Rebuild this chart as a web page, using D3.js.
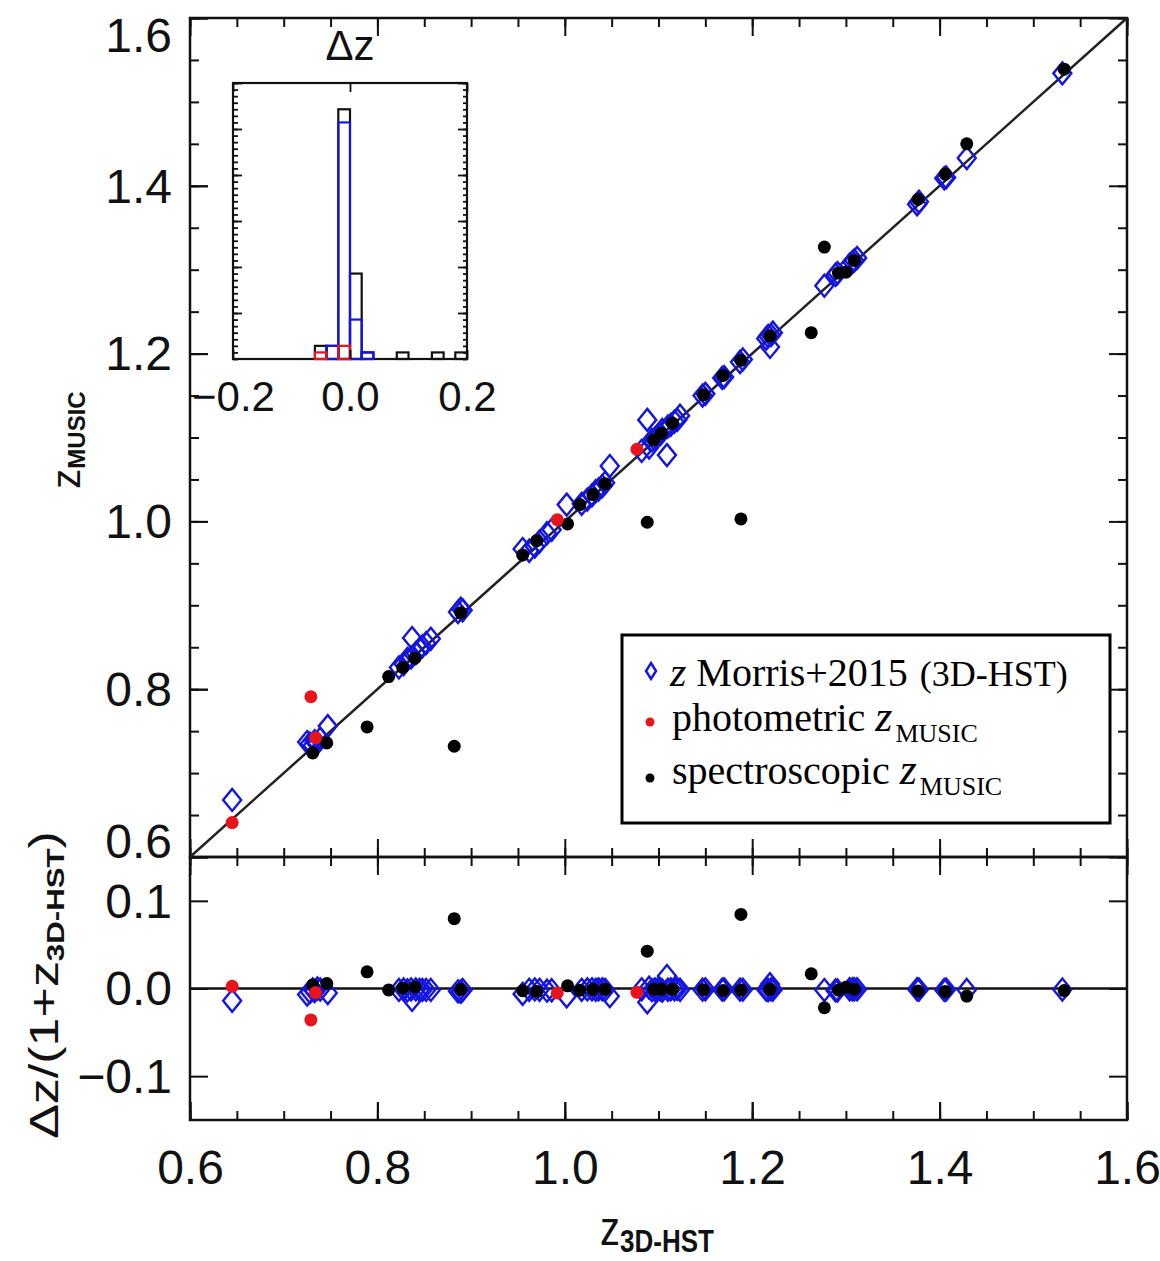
<!DOCTYPE html>
<html>
<head>
<meta charset="utf-8">
<script src="https://cdn.jsdelivr.net/npm/d3@7"></script>
<style>
  body { margin: 0; background: #fff; }
  svg { display: block; }
</style>
</head>
<body>
<div id="chart"></div>
<script>
// ---- data ----
const mainTicks = [0.6, 0.8, 1.0, 1.2, 1.4, 1.6];
const residTicks = [-0.1, 0.0, 0.1];
const insetTicks = [-0.2, 0.0, 0.2];

// blue diamonds: z Morris+2015 against z 3D-HST
const morrisZ3d = [0.645, 0.725, 0.728, 0.731, 0.733, 0.736, 0.739, 0.747,
  0.823, 0.828, 0.832, 0.836, 0.837, 0.841, 0.845, 0.848, 0.852, 0.857,
  0.886, 0.889, 0.891, 0.955, 0.962, 0.968, 0.973, 0.981, 0.986, 1.002,
  1.018, 1.024, 1.029, 1.033, 1.036, 1.040, 1.043, 1.048,
  1.082, 1.088, 1.090, 1.093, 1.096, 1.099, 1.102, 1.104, 1.109, 1.110, 1.113, 1.117, 1.120, 1.123,
  1.147, 1.150, 1.168, 1.170, 1.187, 1.190, 1.215, 1.217, 1.219, 1.220, 1.222,
  1.277, 1.289, 1.291, 1.304, 1.307, 1.309, 1.312, 1.376, 1.378, 1.405, 1.407, 1.429, 1.531];
const morrisZ = [0.668, 0.737, 0.735, 0.733, 0.738, 0.736, 0.741, 0.756,
  0.826, 0.830, 0.836, 0.838, 0.861, 0.843, 0.848, 0.851, 0.855, 0.860,
  0.892, 0.896, 0.894, 0.967, 0.965, 0.970, 0.976, 0.986, 0.990, 1.020,
  1.021, 1.026, 1.031, 1.036, 1.038, 1.042, 1.046, 1.066,
  1.084, 1.121, 1.088, 1.097, 1.098, 1.102, 1.104, 1.109, 1.079, 1.113, 1.115, 1.119, 1.121, 1.126,
  1.150, 1.152, 1.171, 1.172, 1.190, 1.193, 1.218, 1.221, 1.208, 1.222, 1.225,
  1.281, 1.294, 1.296, 1.306, 1.309, 1.311, 1.314, 1.378, 1.381, 1.409, 1.410, 1.433, 1.534];

// black dots: spectroscopic z MUSIC
const specZ3d = [0.731, 0.746, 0.789, 0.812, 0.827, 0.840, 0.882, 0.889, 0.955, 0.970,
  1.003, 1.016, 1.030, 1.043, 1.088, 1.095, 1.103, 1.115, 1.148, 1.169, 1.188, 1.188,
  1.219, 1.263, 1.277, 1.292, 1.300, 1.309, 1.377, 1.406, 1.429, 1.533];
const specZ = [0.724, 0.736, 0.755, 0.815, 0.826, 0.837, 0.732, 0.891, 0.960, 0.977,
  0.997, 1.020, 1.032, 1.045, 0.999, 1.097, 1.105, 1.117, 1.151, 1.174, 1.003, 1.192,
  1.221, 1.225, 1.327, 1.296, 1.297, 1.311, 1.384, 1.414, 1.450, 1.539];

// red dots: photometric z MUSIC
const photZ3d = [0.645, 0.729, 0.734, 0.992, 1.077];
const photZ = [0.641, 0.791, 0.742, 1.002, 1.086];

// inset histogram of delta z, bins of 0.02
const histBins = [-0.20, -0.18, -0.16, -0.14, -0.12, -0.10, -0.08, -0.06, -0.04, -0.02,
  0.00, 0.02, 0.04, 0.06, 0.08, 0.10, 0.12, 0.14, 0.16, 0.18];
const histSpec =   [0, 0, 0, 0, 0, 0, 0, 2, 2, 38, 13, 1, 0, 0, 1, 0, 0, 1, 0, 1];
const histMorris = [0, 0, 0, 0, 0, 0, 0, 0, 2, 36, 6, 1, 0, 0, 0, 0, 0, 0, 0, 0];
const histPhot =   [0, 0, 0, 0, 0, 0, 0, 1, 0, 2, 0, 0, 0, 0, 0, 0, 0, 0, 0, 0];
const binWidth = 0.02;

// ---- layout ----
const W = 1160, H = 1261;
const pLeft = 190, pRight = 1127, pTop = 18, pMid = 857, pBottom = 1120;
const blue = "#1515e0", red = "#e8131b", ink = "#111";
const sans = "'Liberation Sans', Arial, sans-serif";
const serif = "'Liberation Serif', 'Times New Roman', serif";

const svg = d3.select("#chart").append("svg")
  .attr("width", W).attr("height", H)
  .style("background", "#fff");

const x = d3.scaleLinear().domain([0.6, 1.6]).range([pLeft, pRight]);
const yTop = d3.scaleLinear().domain([0.6, 1.6]).range([pMid, pTop]);
const yBot = d3.scaleLinear().domain([-0.15, 0.15]).range([pBottom, pMid]);

const minorX = d3.range(0, 21).map(i => +(0.6 + i * 0.05).toFixed(2));
const fmt = d3.format(".1f");

function tickGroup(tx, ty, axis) {
  const g = svg.append("g").attr("transform", `translate(${tx},${ty})`).call(axis);
  g.select(".domain").remove();
  g.selectAll(".tick line").attr("stroke", ink).attr("stroke-width", 2);
  return g;
}

// main panel ticks
[[() => d3.axisBottom(x), pMid], [() => d3.axisTop(x), pTop]].forEach(([mk, ty]) => {
  tickGroup(0, ty, mk().tickValues(minorX).tickSize(-9).tickFormat(""));
  tickGroup(0, ty, mk().tickValues(mainTicks).tickSize(-18).tickFormat(""));
});
[[() => d3.axisLeft(yTop), pLeft], [() => d3.axisRight(yTop), pRight]].forEach(([mk, tx]) => {
  tickGroup(tx, 0, mk().tickValues(minorX).tickSize(-9).tickFormat(""));
  tickGroup(tx, 0, mk().tickValues(mainTicks).tickSize(-18).tickFormat(""));
});

// residual panel ticks
[[() => d3.axisBottom(x), pBottom], [() => d3.axisTop(x), pMid]].forEach(([mk, ty]) => {
  tickGroup(0, ty, mk().tickValues(minorX).tickSize(-9).tickFormat(""));
  tickGroup(0, ty, mk().tickValues(mainTicks).tickSize(-18).tickFormat(""));
});
tickGroup(pRight, 0, d3.axisRight(yBot).tickValues(residTicks).tickSize(-18).tickFormat(""));

// labelled axes
const yLab = tickGroup(pLeft, 0, d3.axisLeft(yTop).tickValues(mainTicks).tickSize(-18).tickPadding(18).tickFormat(fmt));
yLab.selectAll("text").attr("font-size", 48).attr("font-family", sans).attr("fill", ink)
  .attr("dy", d => d === 1.6 ? "0.7em" : d === 0.6 ? "0em" : "0.34em");

const rLab = tickGroup(pLeft, 0, d3.axisLeft(yBot).tickValues(residTicks).tickSize(-18).tickPadding(18).tickFormat(fmt));
rLab.selectAll("text").attr("font-size", 48).attr("font-family", sans).attr("fill", ink).attr("dy", "0.34em");

const xLab = tickGroup(0, pBottom, d3.axisBottom(x).tickValues(mainTicks).tickSize(-18).tickPadding(30).tickFormat(fmt));
xLab.selectAll("text").attr("font-size", 48).attr("font-family", sans).attr("fill", ink);

// frames
svg.append("rect").attr("x", pLeft).attr("y", pTop).attr("width", pRight - pLeft).attr("height", pMid - pTop)
  .attr("fill", "none").attr("stroke", ink).attr("stroke-width", 2.5);
svg.append("rect").attr("x", pLeft).attr("y", pMid).attr("width", pRight - pLeft).attr("height", pBottom - pMid)
  .attr("fill", "none").attr("stroke", ink).attr("stroke-width", 2.5);

// reference lines
svg.append("line").attr("x1", x(0.6)).attr("y1", yTop(0.6)).attr("x2", x(1.6)).attr("y2", yTop(1.6))
  .attr("stroke", "#222").attr("stroke-width", 2.5);
svg.append("line").attr("x1", x(0.6)).attr("y1", yBot(0)).attr("x2", x(1.6)).attr("y2", yBot(0))
  .attr("stroke", ink).attr("stroke-width", 2.5);

// points
const morris = morrisZ3d.map((z, i) => ({ z3d: z, z: morrisZ[i] }));
const spec = specZ3d.map((z, i) => ({ z3d: z, z: specZ[i] }));
const phot = photZ3d.map((z, i) => ({ z3d: z, z: photZ[i] }));
const resid = d => (d.z3d - d.z) / (1 + d.z3d);

const diamond = (cx, cy, w, h) => `M${cx},${cy - h}L${cx + w},${cy}L${cx},${cy + h}L${cx - w},${cy}Z`;

function drawPoints(g, yOf) {
  g.selectAll("path.morris").data(morris).join("path").attr("class", "morris")
    .attr("d", d => diamond(x(d.z3d), yOf(d), 9, 11))
    .attr("fill", "none").attr("stroke", blue).attr("stroke-width", 2.4);
  g.selectAll("circle.spec").data(spec).join("circle").attr("class", "spec")
    .attr("cx", d => x(d.z3d)).attr("cy", yOf).attr("r", 6.5).attr("fill", "#000");
  g.selectAll("circle.phot").data(phot).join("circle").attr("class", "phot")
    .attr("cx", d => x(d.z3d)).attr("cy", yOf).attr("r", 6.5).attr("fill", red);
}
drawPoints(svg.append("g"), d => yTop(d.z));
drawPoints(svg.append("g"), d => yBot(resid(d)));

// ---- inset histogram ----
const ix = d3.scaleLinear().domain([-0.2, 0.2]).range([233, 467]);
const iy = d3.scaleLinear().domain([0, 42]).range([359, 83]);
const inset = svg.append("g");

inset.append("rect").attr("x", 233).attr("y", 83).attr("width", 234).attr("height", 276)
  .attr("fill", "#fff").attr("stroke", ink).attr("stroke-width", 2.2);

[[histSpec, ink], [histMorris, blue], [histPhot, red]].forEach(([counts, col]) => {
  inset.append("g").selectAll("rect")
    .data(histBins.map((b, i) => ({ b, c: counts[i] })).filter(d => d.c > 0))
    .join("rect")
    .attr("x", d => ix(d.b)).attr("width", d => ix(d.b + binWidth) - ix(d.b))
    .attr("y", d => iy(d.c)).attr("height", d => iy(0) - iy(d.c))
    .attr("fill", "none").attr("stroke", col).attr("stroke-width", 2.2);
});

const countMinor = d3.range(0, 43);
const countMajor = [7, 14, 21, 28, 35, 42];
function insetTicksGroup(tx, ty, axis) {
  const g = inset.append("g").attr("transform", `translate(${tx},${ty})`).call(axis);
  g.select(".domain").remove();
  g.selectAll(".tick line").attr("stroke", ink).attr("stroke-width", 1.8);
  return g;
}
insetTicksGroup(233, 0, d3.axisLeft(iy).tickValues(countMinor).tickSize(-5).tickFormat(""));
insetTicksGroup(467, 0, d3.axisRight(iy).tickValues(countMinor).tickSize(-4).tickFormat(""));
insetTicksGroup(233, 0, d3.axisLeft(iy).tickValues(countMajor).tickSize(-9).tickFormat(""));
insetTicksGroup(467, 0, d3.axisRight(iy).tickValues(countMajor).tickSize(-9).tickFormat(""));
insetTicksGroup(0, 83, d3.axisTop(ix).tickValues(insetTicks).tickSize(-9).tickFormat(""));
const iLab = insetTicksGroup(0, 359, d3.axisBottom(ix).tickValues(insetTicks).tickSize(-9).tickPadding(22).tickFormat(fmt));
iLab.selectAll("text").attr("font-size", 42).attr("font-family", sans).attr("fill", ink);

inset.append("text").attr("x", 350).attr("y", 60).attr("text-anchor", "middle")
  .attr("font-family", sans).attr("font-size", 42).attr("fill", ink).text("Δz");

// ---- axis titles ----
const yTitle = svg.append("g").attr("transform", "translate(80,440) rotate(-90)")
  .append("text").attr("text-anchor", "middle").attr("font-family", sans).attr("fill", ink);
yTitle.append("tspan").attr("font-size", 40).text("z");
yTitle.append("tspan").attr("font-size", 24).attr("font-weight", "bold").attr("dy", 5).text("MUSIC");

const rTitle = svg.append("g").attr("transform", "translate(58,985) rotate(-90) scale(1.3,1)")
  .append("text").attr("text-anchor", "middle").attr("font-family", sans).attr("fill", ink);
rTitle.append("tspan").attr("font-size", 40).text("Δz/(1+z");
rTitle.append("tspan").attr("font-size", 24).attr("font-weight", "bold").attr("dy", 6).text("3D-HST");
rTitle.append("tspan").attr("font-size", 40).attr("dy", -6).text(")");

const xTitle = svg.append("g").attr("transform", "translate(657,1245) scale(1,1.2)")
  .append("text").attr("text-anchor", "middle").attr("font-family", sans).attr("fill", ink);
xTitle.append("tspan").attr("font-size", 40).text("z");
xTitle.append("tspan").attr("font-size", 26).attr("font-weight", "bold").attr("dy", 6).text("3D-HST");

// ---- legend ----
const leg = svg.append("g");
leg.append("rect").attr("x", 622).attr("y", 635).attr("width", 488).attr("height", 188)
  .attr("fill", "#fff").attr("stroke", "#000").attr("stroke-width", 3);
leg.append("path").attr("d", diamond(651, 671, 5, 8)).attr("fill", "none").attr("stroke", blue).attr("stroke-width", 2.5);
leg.append("circle").attr("cx", 650).attr("cy", 722).attr("r", 4.5).attr("fill", red);
leg.append("circle").attr("cx", 650).attr("cy", 778).attr("r", 4.5).attr("fill", "#000");

const l1 = leg.append("text").attr("x", 670).attr("y", 686).attr("font-family", serif).attr("font-size", 40).attr("fill", "#000");
l1.append("tspan").attr("font-style", "italic").attr("font-size", 42).text("z");
l1.append("tspan").text(" Morris+2015");
l1.append("tspan").attr("font-size", 36).attr("dx", 12).text("(3D-HST)");

[["photometric ", 731], ["spectroscopic ", 784]].forEach(([label, yb]) => {
  const t = leg.append("text").attr("x", 672).attr("y", yb).attr("font-family", serif).attr("font-size", 40).attr("fill", "#000");
  t.append("tspan").text(label);
  t.append("tspan").attr("font-style", "italic").attr("font-size", 44).text("z");
  t.append("tspan").attr("font-size", 26).attr("dx", 3).attr("dy", 11).text("MUSIC");
});
</script>
</body>
</html>
